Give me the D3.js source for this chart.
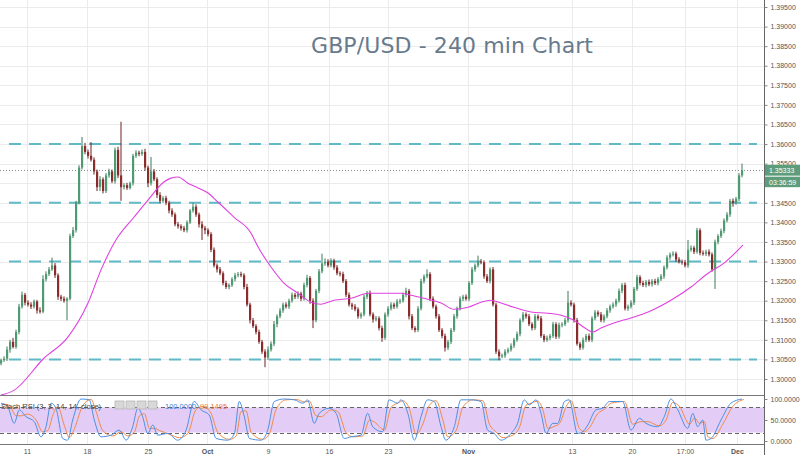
<!DOCTYPE html>
<html><head><meta charset="utf-8">
<script src="https://cdn.jsdelivr.net/npm/d3@7"></script>
<style>body{margin:0;background:#fff}svg{display:block}</style>
</head><body>
<svg id="c" width="800" height="455"></svg>
<script>
// ---------------- DATA ----------------
const firstOpen = 1.3040;
const closes = [
1.3048,1.3052,1.3075,1.3095,1.3082,1.3120,1.3185,1.3215,1.3195,1.3190,
1.3185,1.3198,1.3175,1.3172,1.3255,1.3268,1.3280,1.3290,1.3265,1.3210,
1.3205,1.3200,1.3205,1.3365,1.3380,1.3450,1.3540,1.3595,1.3580,1.3570,
1.3560,1.3530,1.3490,1.3510,1.3480,1.3520,1.3530,1.3505,1.3585,1.3520,
1.3490,1.3495,1.3488,1.3500,1.3570,1.3578,1.3575,1.3580,1.3540,1.3500,
1.3530,1.3510,1.3470,1.3455,1.3462,1.3450,1.3430,1.3420,1.3395,1.3390,
1.3385,1.3380,1.3400,1.3430,1.3440,1.3420,1.3395,1.3385,1.3380,1.3370,
1.3330,1.3290,1.3280,1.3270,1.3245,1.3235,1.3240,1.3255,1.3265,1.3268,
1.3265,1.3235,1.3190,1.3150,1.3135,1.3120,1.3095,1.3070,1.3055,1.3075,
1.3090,1.3140,1.3160,1.3175,1.3190,1.3185,1.3200,1.3215,1.3210,1.3218,
1.3205,1.3240,1.3258,1.3200,1.3150,1.3225,1.3275,1.3295,1.3300,1.3290,
1.3302,1.3285,1.3270,1.3268,1.3250,1.3215,1.3190,1.3185,1.3178,1.3160,
1.3165,1.3210,1.3220,1.3165,1.3152,1.3155,1.3130,1.3105,1.3165,1.3180,
1.3190,1.3185,1.3198,1.3200,1.3215,1.3225,1.3160,1.3130,1.3125,1.3180,
1.3250,1.3262,1.3268,1.3205,1.3185,1.3160,1.3125,1.3110,1.3080,1.3095,
1.3125,1.3160,1.3180,1.3205,1.3210,1.3205,1.3245,1.3280,1.3290,1.3300,
1.3298,1.3262,1.3250,1.3280,1.3190,1.3070,1.3058,1.3060,1.3070,1.3075,
1.3085,1.3100,1.3115,1.3150,1.3165,1.3160,1.3140,1.3130,1.3160,1.3155,
1.3110,1.3100,1.3105,1.3110,1.3140,1.3108,1.3138,1.3140,1.3150,1.3195,
1.3190,1.3150,1.3090,1.3080,1.3100,1.3110,1.3100,1.3155,1.3170,1.3165,
1.3150,1.3160,1.3175,1.3185,1.3190,1.3200,1.3225,1.3240,1.3180,1.3185,
1.3195,1.3230,1.3260,1.3245,1.3240,1.3248,1.3242,1.3250,1.3245,1.3255,
1.3262,1.3285,1.3310,1.3318,1.3320,1.3305,1.3300,1.3298,1.3290,1.3330,
1.3335,1.3325,1.3380,1.3322,1.3320,1.3325,1.3318,1.3280,1.3350,1.3365,
1.3378,1.3405,1.3420,1.3455,1.3450,1.3460,1.3520,1.3533];
// wick extents beyond the body, in pips
const wickUp = [
4,6,8,5,10,6,7,8,5,6, 6,5,4,8,10,7,6,20,6,5, 5,6,4,6,8,5,6,23,8,6,
35,6,5,8,5,6,7,5,6,8, 137,5,6,4,5,6,5,6,8,5, 37,6,5,7,5,6,5,6,5,6,
5,6,5,4,10,6,5,8,6,5, 5,6,5,6,5,6,4,5,6,5, 6,5,8,5,6,5,6,5,6,8,
6,8,5,6,5,6,5,6,5,6, 5,6,8,5,6,5,6,25,8,6, 6,5,6,5,6,5,6,5,6,5,
5,6,5,6,5,6,5,6,5,6, 6,5,6,5,6,8,5,6,5,6, 6,5,12,5,6,5,6,5,6,5,
5,6,5,6,5,6,5,6,5,15, 6,5,6,5,6,5,6,5,6,5, 6,5,6,5,6,5,6,5,6,5,
6,5,6,5,6,5,6,5,6,30, 6,5,6,5,6,5,6,5,6,5, 6,5,6,5,6,5,6,5,6,5,
6,5,6,5,6,5,6,5,6,5, 6,5,6,5,6,5,6,5,6,25, 6,5,6,5,6,5,6,5,6,5,
6,5,6,5,6,5,6,17];
const wickDn = [
5,4,6,8,4,5,6,5,7,5, 6,5,8,5,4,6,5,4,7,8, 6,5,50,4,5,6,4,5,6,7,
5,8,10,10,6,5,6,5,6,7, 35,6,5,4,6,5,6,5,8,10, 6,5,8,6,5,6,7,6,5,6,
6,5,6,4,5,6,8,30,10,6, 6,5,8,5,6,5,6,5,6,5, 5,6,5,8,5,6,5,6,25,6,
5,6,8,5,6,5,6,5,6,5, 6,5,6,8,20,5,6,5,6,5, 5,6,5,6,5,6,5,8,5,6,
6,5,6,5,8,5,6,10,5,6, 5,6,5,6,5,6,8,5,6,5, 5,6,5,6,5,6,5,6,10,6,
6,5,6,5,6,5,6,5,6,5, 5,6,5,6,5,6,10,5,6,5, 5,6,5,6,5,6,5,6,5,6,
5,6,5,6,5,6,5,6,5,6, 5,6,5,6,5,6,5,6,5,6, 5,6,5,6,5,6,5,6,5,6,
5,6,5,6,5,6,5,6,5,6, 5,6,5,6,5,6,5,6,5,6, 5,6,5,6,5,6,5,6,50,6,
5,6,5,6,10,5,6,5];
// moving average (bar position, value)
const maBars = [0,4.3,14.3,22.3,29,33.3,38.3,44.3,49,54.3,56.7,59,62.3,65.7,69,72.3,77.7,83.3,85.7,
90,94.3,99,103.3,106.7,111,116.7,122.3,127.7,133.3,136.7,141,146.7,151,155.7,160,163.3,166.7,
171,176.7,182.3,186.7,191,194.3,197.3,200,204.3,210,215.7,223.3,230,235.7,241,247.3];
const maVals = [1.2959,1.2971,1.3053,1.3107,1.3194,1.3278,1.3355,1.3413,1.3457,1.3503,1.3513,1.3516,
1.3500,1.3488,1.3475,1.3452,1.3413,1.3373,1.3337,1.3286,1.3245,1.3219,1.3196,1.3191,1.3201,1.3206,
1.3219,1.3219,1.3219,1.3214,1.3206,1.3194,1.3178,1.3183,1.3196,1.3201,1.3194,1.3183,1.3171,1.3168,
1.3163,1.3150,1.3132,1.3120,1.3130,1.3143,1.3156,1.3171,1.3201,1.3235,1.3270,1.3296,1.3342];
// Stoch RSI (bar position, value)
const stochBars = [0,2.2,4.4,6.1,8.3,11.1,13.3,15,16.7,18.3,20.6,22.2,23.9,26.7,29.4,31.1,33.3,36.7,39.4,
41.7,43.9,45.6,47.2,48.9,50.6,52.2,55.6,58.9,61.7,64.4,66.7,69.4,71.7,75.6,77.8,79.4,81.1,82.8,86.7,
88.9,91.1,94.4,97.8,100.6,102.2,104.4,106.1,109.4,111.7,114.4,116.7,120,122.2,123.9,127.2,129.4,
132.2,133.3,135.6,137.8,140,142.2,144.4,146.7,148.3,151.1,153.3,156.7,160,162.2,164.4,166.7,170,
172.2,174.4,176.1,178.3,180,181.7,183.9,185.6,187.8,189.4,192.2,193.9,195.6,198.3,200.6,202.8,
207.2,210,212.8,215,218.9,221.1,223.3,225.6,228.9,230.6,232.2,233.9,235,236.7,240,243.3,247];
const stochK = [90,82,42,74,58,46,10,34,90,78,6,2,50,100,98,50,10,14,26,2,34,78,58,18,38,14,18,2,
26,94,74,62,6,2,18,94,58,6,2,26,94,100,98,90,98,42,66,78,66,6,10,14,66,34,22,98,90,98,66,2,58,98,
94,34,2,34,98,98,94,26,18,2,18,42,98,86,98,66,18,42,42,94,98,18,22,38,74,78,94,94,26,54,42,34,58,
100,74,30,66,34,50,2,6,50,90,100];
const stochD = [88,85,60,60,64,50,22,25,62,82,35,8,30,85,99,70,25,12,22,12,22,60,65,30,30,25,16,8,
18,75,82,66,20,4,12,70,72,20,4,18,75,98,99,93,95,60,58,74,70,20,10,12,50,45,26,80,92,96,75,15,40,
85,96,50,10,25,80,98,96,40,22,8,14,32,85,90,95,75,30,35,42,82,96,30,22,32,65,76,90,94,40,46,46,
36,50,92,82,40,55,42,46,10,6,40,82,99.1];
const priceTicks = [1.300,1.305,1.310,1.315,1.320,1.325,1.330,1.335,1.340,1.345,1.350,1.355,1.360,
1.365,1.370,1.375,1.380,1.385,1.390,1.395];
const stochTicks = [0,50,100];
const tickBars = [8.67,28.67,49,68.67,89,109.3,129,155.7,190.3,210.3,228,245.3];
const tickLabels = ["11","18","25","Oct","9","16","23","Nov","13","20","17:00","Dec"];
const boldLabels = ["Oct","Nov","Dec"];
const levels = [1.360,1.345,1.330,1.305];
const lastPrice = 1.35333;
const countdown = "03:36:59";
const title = "GBP/USD - 240 min Chart";
const stochName = "Stoch RSI (3, 3, 14, 14, close)";
const stochLast = ["100.0000","99.1495"];

// ---------------- DRAW ----------------
const svg = d3.select("#c");
const W = 800, H = 455, axisX = 764, paneBottom = 395, xAxisY = 444;
const x = d3.scaleLinear().domain([0, closes.length - 1]).range([1, 742]);
const y = d3.scaleLinear().domain([1.300, 1.395]).range([379, 7]);
const ys = d3.scaleLinear().domain([0, 100]).range([441, 399]);
const PIP = 0.0001;
const font = "'Liberation Sans', Arial, sans-serif";

const defs = svg.append("defs");
defs.append("clipPath").attr("id","pp").append("rect").attr("x",0).attr("y",0).attr("width",axisX).attr("height",paneBottom);
defs.append("clipPath").attr("id","sp").append("rect").attr("x",0).attr("y",paneBottom+1).attr("width",axisX).attr("height",xAxisY-paneBottom-1);

// grid
svg.append("g").selectAll("line").data(priceTicks).join("line")
  .attr("x1",0).attr("x2",axisX).attr("y1",d=>Math.round(y(d))+0.5).attr("y2",d=>Math.round(y(d))+0.5)
  .attr("stroke","#ebebeb").attr("stroke-width",1);
svg.append("g").selectAll("line").data(tickBars).join("line")
  .attr("x1",d=>Math.round(x(d))+0.5).attr("x2",d=>Math.round(x(d))+0.5).attr("y1",0).attr("y2",xAxisY)
  .attr("stroke","#ebebeb").attr("stroke-width",1);

// title
svg.append("text").attr("x",311).attr("y",53).text(title)
  .attr("font-family","'DejaVu Sans', Verdana, sans-serif").attr("font-size",22)
  .attr("fill","#687a8b").attr("textLength",282);

// price pane
const pp = svg.append("g").attr("clip-path","url(#pp)");
pp.selectAll("line.lv").data(levels).join("line").attr("class","lv")
  .attr("x1",9).attr("x2",757).attr("y1",d=>y(d)).attr("y2",d=>y(d))
  .attr("stroke","#5fb9c6").attr("stroke-width",2).attr("stroke-dasharray","12,8");
pp.append("line").attr("x1",0).attr("x2",axisX).attr("y1",Math.round(y(lastPrice))+0.5).attr("y2",Math.round(y(lastPrice))+0.5)
  .attr("stroke","#8a8a8a").attr("stroke-width",1).attr("stroke-dasharray","1,2");

// candles
const candles = closes.map((c,i)=>{
  const o = i===0 ? firstOpen : closes[i-1];
  return {i, o, c, h: Math.max(o,c)+wickUp[i]*PIP, l: Math.min(o,c)-wickDn[i]*PIP};
});
const upFill = "#4f9a72", dnFill = "#8a2c2c";
const cg = pp.append("g");
cg.selectAll("line").data(candles).join("line")
  .attr("x1",d=>x(d.i)).attr("x2",d=>x(d.i)).attr("y1",d=>y(d.h)).attr("y2",d=>y(d.l))
  .attr("stroke",d=>d.c>=d.o?"#3d7a5a":"#6a2222").attr("stroke-width",1);
cg.selectAll("rect").data(candles).join("rect")
  .attr("x",d=>x(d.i)-1).attr("width",2.2)
  .attr("y",d=>y(Math.max(d.o,d.c)))
  .attr("height",d=>Math.max(1,Math.abs(y(d.o)-y(d.c))))
  .attr("fill",d=>d.c>=d.o?upFill:dnFill);

// moving average
const maPts = maBars.map((b,k)=>[b,maVals[k]]);
pp.append("path").datum(maPts)
  .attr("d",d3.line().x(d=>x(d[0])).y(d=>y(d[1])).curve(d3.curveMonotoneX))
  .attr("fill","none").attr("stroke","#e040e0").attr("stroke-width",1.1);

// stoch pane
const sp = svg.append("g").attr("clip-path","url(#sp)");
sp.append("rect").attr("x",0).attr("width",axisX).attr("y",ys(80)).attr("height",ys(20)-ys(80)).attr("fill","#e3cdf6");
sp.selectAll("line.sl").data([80,20]).join("line").attr("class","sl")
  .attr("x1",0).attr("x2",axisX).attr("y1",d=>Math.round(ys(d))+0.5).attr("y2",d=>Math.round(ys(d))+0.5)
  .attr("stroke","#666").attr("stroke-width",1).attr("stroke-dasharray","4,3");
const sLine = d3.line().x(d=>x(d[0])).y(d=>ys(d[1])).curve(d3.curveMonotoneX);
sp.append("path").datum(stochBars.map((b,k)=>[b+0.6,stochD[k]])).attr("d",sLine)
  .attr("fill","none").attr("stroke","#ef8a4a").attr("stroke-width",1);
sp.append("path").datum(stochBars.map((b,k)=>[b,stochK[k]])).attr("d",sLine)
  .attr("fill","none").attr("stroke","#4a90e2").attr("stroke-width",1);

// legend
svg.append("text").attr("x",1).attr("y",409).text(stochName)
  .attr("font-family",font).attr("font-size",7.5).attr("fill","#444");
const icons = svg.append("g");
[0,1,2,3].forEach(k=>icons.append("rect").attr("x",115+k*11).attr("y",401).attr("width",9).attr("height",8)
  .attr("fill","#d8d8d8").attr("stroke","#b5b5b5").attr("stroke-width",0.8));
svg.append("text").attr("x",165).attr("y",409).text(stochLast[0]).attr("font-family",font).attr("font-size",7.5).attr("fill","#3a86e0");
svg.append("text").attr("x",200).attr("y",409).text(stochLast[1]).attr("font-family",font).attr("font-size",7.5).attr("fill","#ee7a3a");

// pane separators and axis lines
svg.append("line").attr("x1",0).attr("x2",axisX).attr("y1",paneBottom+0.5).attr("y2",paneBottom+0.5).attr("stroke","#777");
svg.append("line").attr("x1",0).attr("x2",axisX).attr("y1",xAxisY+0.5).attr("y2",xAxisY+0.5).attr("stroke","#777");
svg.append("line").attr("x1",axisX+0.5).attr("x2",axisX+0.5).attr("y1",0).attr("y2",H).attr("stroke","#666");

// right price axis
const pa = svg.append("g").attr("transform",`translate(${axisX+0.5},0)`)
  .call(d3.axisRight(y).tickValues(priceTicks).tickFormat(d3.format(".5f")).tickSize(3).tickPadding(3));
pa.select(".domain").remove();
pa.selectAll("text").attr("font-family",font).attr("font-size",7).attr("fill","#555");
pa.selectAll("line").attr("stroke","#888");

const sa = svg.append("g").attr("transform",`translate(${axisX+0.5},0)`)
  .call(d3.axisRight(ys).tickValues(stochTicks).tickFormat(d3.format(".4f")).tickSize(3).tickPadding(3));
sa.select(".domain").remove();
sa.selectAll("text").attr("font-family",font).attr("font-size",7).attr("fill","#555");
sa.selectAll("line").attr("stroke","#888");

// last price tag
const tagY = y(lastPrice);
svg.append("rect").attr("x",axisX+1).attr("y",tagY-5.5).attr("width",W-axisX-1).attr("height",11).attr("fill","#5e9d7b");
svg.append("text").attr("x",769).attr("y",tagY+2.5).text(d3.format(".5f")(lastPrice))
  .attr("font-family",font).attr("font-size",7).attr("fill","#fff");
svg.append("rect").attr("x",axisX+1).attr("y",tagY+6.5).attr("width",W-axisX-1).attr("height",10.5).attr("fill","#5e9d7b");
svg.append("text").attr("x",769).attr("y",tagY+14.5).text(countdown)
  .attr("font-family",font).attr("font-size",7).attr("fill","#fff");

// bottom time axis
const ta = svg.append("g").attr("transform",`translate(0,${xAxisY})`)
  .call(d3.axisBottom(x).tickValues(tickBars).tickFormat((d,k)=>tickLabels[k]).tickSize(0).tickPadding(5));
ta.select(".domain").remove();
ta.selectAll("text").attr("font-family",font).attr("font-size",7).attr("fill","#555")
  .attr("font-weight",(d,k)=>boldLabels.includes(tickLabels[k])?"bold":"normal");
</script>
</body></html>
